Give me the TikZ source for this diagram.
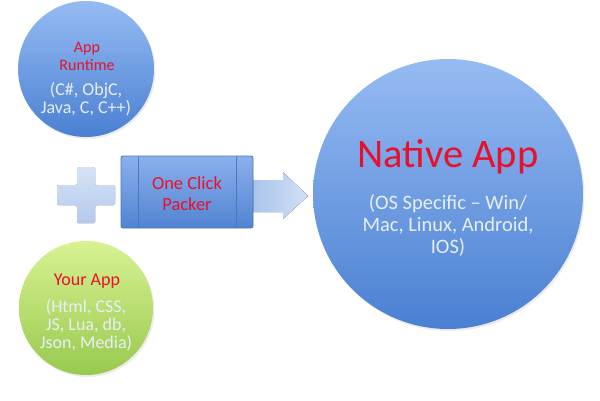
\documentclass[tikz,border=0pt]{standalone}
\usepackage{fontspec}
\setmainfont{Carlito}
\usetikzlibrary{shadows}
\definecolor{redtxt}{HTML}{E8112D}
\definecolor{lighttxt}{HTML}{E8EEF8}
\definecolor{bluetop}{HTML}{96BBF3}
\definecolor{bluebot}{HTML}{4A80D2}
\definecolor{greentop}{HTML}{D8F292}
\definecolor{greenbot}{HTML}{98C94E}
\definecolor{plustop}{HTML}{D6E3F6}
\definecolor{plusbot}{HTML}{B3C9EC}
\definecolor{boxtop}{HTML}{8AB0EC}
\definecolor{boxbot}{HTML}{5283D2}
\definecolor{boxline}{HTML}{4A78BC}
\definecolor{arrleft}{HTML}{A9C4EC}
\definecolor{arrright}{HTML}{D3E1F5}
\tikzset{
  bubble/.style={circle, draw=none, inner sep=0pt, top color=bluetop, bottom color=bluebot,
    drop shadow={opacity=0.15, shadow xshift=1.5pt, shadow yshift=-2pt}},
  redlabel/.style={text=redtxt, align=center, anchor=base, inner sep=0pt},
  whitelabel/.style={text=lighttxt, align=center, anchor=base, inner sep=0pt},
}
\begin{document}
\begin{tikzpicture}[x=1pt, y=-1pt]
\useasboundingbox (0,0) rectangle (600,400);
% circles
\node[bubble, minimum size=136pt] (runtime) at (86,69) {};
\node[bubble, minimum size=134pt, top color=greentop, bottom color=greenbot] (yourapp) at (86,308) {};
\node[bubble, minimum size=270pt] (native) at (448,194) {};
% plus
\node[inner sep=0pt, minimum size=0pt] (plus) at (86,195) {};
\fill[top color=plustop, bottom color=plusbot, rounded corners=1.5pt]
  (77,167) -- (95,167) -- (95,185) -- (115,185) -- (115,205) -- (95,205) -- (95,223)
  -- (77,223) -- (77,205) -- (57,205) -- (57,185) -- (77,185) -- cycle;
% packer box
\node[draw=boxline, line width=0.8pt, rounded corners=2pt, top color=boxtop, bottom color=boxbot,
  minimum width=132pt, minimum height=72pt, inner sep=0pt] (packer) at (187,192) {};
\draw[boxline, line width=0.6pt] (138,156.5) -- (138,227.5);
\draw[boxline, line width=0.6pt] (236,156.5) -- (236,227.5);
% block arrow
\coordinate (tip) at (308,196);
\fill[left color=arrleft, right color=arrright]
  (packer.east |- 0,180) -- (283,180) -- (283,172) -- (tip) -- (283,219) -- (283,212)
  -- (packer.east |- 0,212) -- cycle;
% texts (anchor base = baseline of the last line)
\node[redlabel, font=\fontsize{16}{18}\selectfont] (rtitle) at (87,70) {App\\Runtime};
\node[whitelabel, font=\fontsize{18}{18}\selectfont] (rsub) at (86,113) {(C\#, ObjC,\\Java, C, C++)};
\node[redlabel, font=\fontsize{18}{18}\selectfont] (ytitle) at (87,285) {Your App};
\node[whitelabel, font=\fontsize{18}{18}\selectfont] (ysub) at (86,348) {(Html, CSS,\\JS, Lua, db,\\Json, Media)};
\node[redlabel, font=\fontsize{18.5}{21}\selectfont] (ptitle) at (187,210) {One Click\\Packer};
\node[redlabel, font=\fontsize{40.5}{46}\selectfont] (ntitle) at (448,167) {Native App};
\node[whitelabel, font=\fontsize{20.5}{21.7}\selectfont] (nsub) at (448,253) {(OS Specific – Win/\\Mac, Linux, Android,\\IOS)};
\end{tikzpicture}
\end{document}
